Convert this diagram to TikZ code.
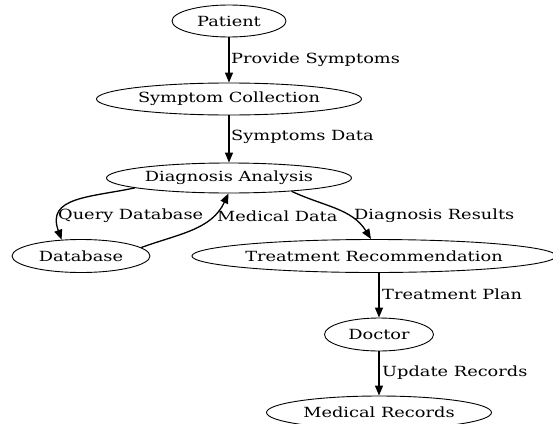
\documentclass[tikz,border=0pt]{standalone}
\usepackage{fontspec}
\setmainfont[FakeStretch=1.27]{DejaVu Serif}
\usetikzlibrary{shapes.geometric,arrows.meta}

\begin{document}
\begin{tikzpicture}
      [%%%%%%%%%%%%%%%%%%%%%%%%%%%%%%
      x=1pt,y=-1pt,
      state/.style={ellipse,draw=black,line width=0.9pt,minimum height=32pt,
        inner sep=0pt,font=\fontsize{14}{16}\selectfont},
      flow/.style={line width=1.3pt,-{Triangle[length=10pt,width=8pt]}},
      lbl/.style={anchor=west,inner sep=1pt,font=\fontsize{14}{16}\selectfont},
      ]%%%%%%%%%%%%%%%%%%%%%%%%%%%%%%

      \useasboundingbox (0,0) rectangle (553,423);
      \clip (0,0) rectangle (553,423);

      \node[state,minimum width=114pt] (pat) at (229,21) {Patient};
      \node[state,minimum width=265pt] (sym) at (229,99) {Symptom Collection};
      \node[state,minimum width=245pt,minimum height=30pt] (dia) at (229,178) {Diagnosis Analysis};
      \node[state,minimum width=138pt,minimum height=33pt] (db)  at (81,256)  {Database};
      \node[state,minimum width=354pt,minimum height=33pt] (tre) at (374,256) {Treatment Recommendation};
      \node[state,minimum width=109pt,minimum height=33pt] (doc) at (379,334.5) {Doctor};
      \node[state,minimum width=225pt,minimum height=33pt] (rec) at (379,412.5) {Medical Records};

      % vertical flows
      \draw[flow] (pat) -- (sym);
      \draw[flow] (sym) -- (dia);
      \draw[flow] (doc |- tre.south) -- (doc);
      \draw[flow] (doc) -- (rec);

      % curved flows
      \draw[flow] (dia.186) to[out=192,in=110,looseness=1.3] (db.140);
      \draw[flow] (db.8) to[out=20,in=245] (dia.268);
      \draw[flow] (dia.348) to[out=-25,in=122] (tre.100);

      \node[lbl] (l1) at (230,60)  {Provide Symptoms};
      \node[lbl] (l2) at (230,137) {Symptoms Data};
      \node[lbl] (l3) at (57,216)  {Query Database};
      \node[lbl] (l4) at (216,216) {Medical Data};
      \node[lbl] (l5) at (353,216) {Diagnosis Results};
      \node[lbl] (l6) at (381,294) {Treatment Plan};
      \node[lbl] (l7) at (381,373) {Update Records};
    \end{tikzpicture}
\end{document}
